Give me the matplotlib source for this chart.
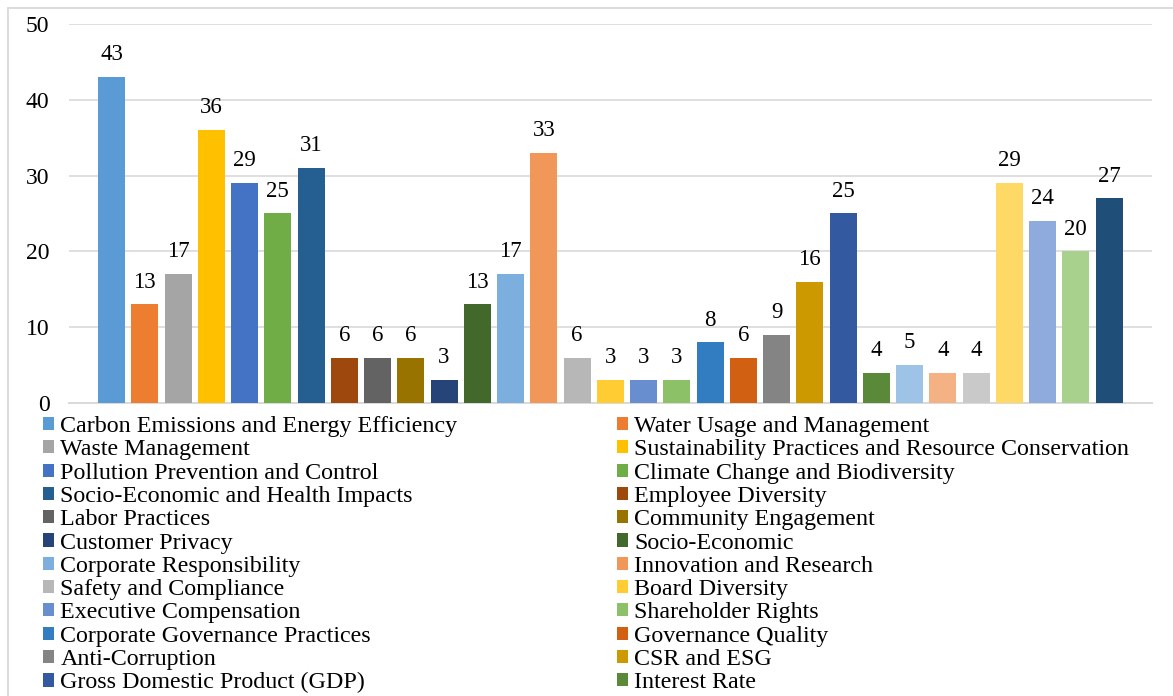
import matplotlib
matplotlib.use("Agg")
import matplotlib.pyplot as plt
from matplotlib.patches import Rectangle

plt.rcParams['font.family'] = ['Liberation Serif', 'DejaVu Serif']

# Categories visible in the legend (the remaining bars' names are cut off in the source)
categories = [
    "Carbon Emissions and Energy Efficiency", "Water Usage and Management",
    "Waste Management", "Sustainability Practices and Resource Conservation",
    "Pollution Prevention and Control", "Climate Change and Biodiversity",
    "Socio-Economic and Health Impacts", "Employee Diversity",
    "Labor Practices", "Community Engagement",
    "Customer Privacy", "Socio-Economic",
    "Corporate Responsibility", "Innovation and Research",
    "Safety and Compliance", "Board Diversity",
    "Executive Compensation", "Shareholder Rights",
    "Corporate Governance Practices", "Governance Quality",
    "Anti-Corruption", "CSR and ESG",
    "Gross Domestic Product (GDP)", "Interest Rate",
]
values = [43, 13, 17, 36, 29, 25, 31, 6, 6, 6, 3, 13, 17, 33, 6, 3, 3, 3,
          8, 6, 9, 16, 25, 4, 5, 4, 4, 29, 24, 20, 27]
colors = ["#5B9BD5", "#ED7D31", "#A5A5A5", "#FFC000", "#4472C4", "#70AD47",
          "#255E91", "#9E480E", "#636363", "#997300", "#264478", "#43682B",
          "#7CAFDD", "#F1975A", "#B7B7B7", "#FFCD33", "#698ED0", "#8CC168",
          "#327DC2", "#D26012", "#848484", "#CC9A00", "#335AA1", "#5A8A39",
          "#9DC3E6", "#F4B183", "#C9C9C9", "#FFD966", "#8FAADC", "#A9D18E",
          "#1F4E79"]
yticks = [0, 10, 20, 30, 40, 50]

W, H = 1173, 696
fig = plt.figure(figsize=(W / 100, H / 100), dpi=100)
ax = fig.add_axes([69 / W, 1 - 403 / H, (1152 - 69) / W, (403 - 24) / H])

grid_c = "#D9D9D9"
x = list(range(len(values)))
bars = ax.bar(x, values, width=0.812, color=colors, zorder=3)
for i, b in enumerate(bars):
    ax.annotate(str(values[i]), (b.get_x() + b.get_width() / 2, b.get_height()),
                xytext=(0, 8.5), textcoords="offset points",
                ha="center", va="bottom", fontsize=16.5, color="#000000")

ax.set_xlim(-1.278, 31.29)
ax.set_ylim(0, 50)
ax.set_yticks(yticks)
ax.set_yticklabels([str(t) for t in yticks], fontsize=17)
ax.set_xticks([])
ax.tick_params(axis="y", length=0, pad=14)
ax.yaxis.grid(True, color=grid_c, linewidth=1.2, zorder=0)
ax.set_axisbelow(True)
for s in ["top", "right", "left"]:
    ax.spines[s].set_visible(False)
ax.spines["bottom"].set_color(grid_c)
ax.spines["bottom"].set_linewidth(1.4)

# chart border (clipped at the right and bottom edges in the source)
border = Rectangle((7.5 / W, -0.2), 2.0, 1 - 7.5 / H + 0.2, transform=fig.transFigure,
                   fill=False, edgecolor=grid_c, linewidth=1.3)
fig.patches.append(border)

handles = list(bars)[:len(categories)]
left_h = handles[0::2]
left_l = categories[0::2]
right_h = handles[1::2]
right_l = categories[1::2]
fs = 17.3
common = dict(frameon=False, fontsize=fs, handlelength=0.46, handleheight=0.46,
              handletextpad=0.26, labelspacing=0.096, borderpad=0, borderaxespad=0,
              loc="upper left")
fig.legend(left_h, left_l, bbox_to_anchor=(43 / W, 1 - 416 / H), **common)
fig.legend(right_h, right_l, bbox_to_anchor=(617 / W, 1 - 416 / H), **common)

fig.savefig("out.png", dpi=100)
